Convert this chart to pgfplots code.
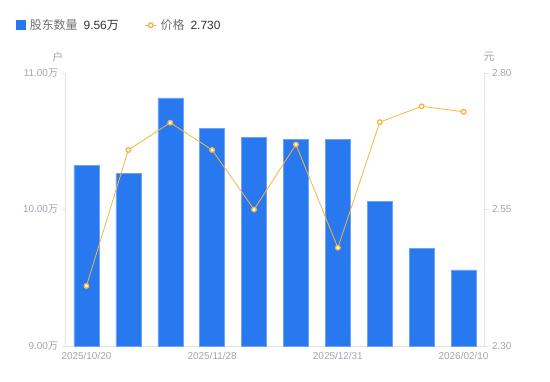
\documentclass[border=0pt]{standalone}
\usepackage{fontspec}
\setmainfont{Liberation Sans}
\newfontfamily\cjk{Noto Sans CJK SC}
\usepackage{pgfplots}
\pgfplotsset{compat=1.18}
\definecolor{barblue}{HTML}{2878F0}
\definecolor{baredge}{HTML}{6FA3F5}
\definecolor{lineorange}{HTML}{F7B43F}
\definecolor{tickgray}{HTML}{A3A3B0}
\definecolor{axisgray}{HTML}{E3E3E6}
\definecolor{leggray}{HTML}{707075}
\definecolor{legdark}{HTML}{333333}
\begin{document}
\begin{tikzpicture}[x=1bp,y=1bp]
\useasboundingbox (0,0) rectangle (550,381);
\begin{axis}[
  at={(65.5bp,35bp)}, anchor=south west,
  scale only axis, width=419bp, height=273bp,
  xmin=-0.5, xmax=9.5, ymin=9, ymax=11,
  axis x line*=bottom, axis y line*=left,
  axis line style={draw=axisgray, line width=0.8pt},
  xtick={0,3,6,9},
  xticklabels={2025/10/20,2025/11/28,2025/12/31,2026/02/10},
  x tick style={draw=none},
  ytick={9,10,11},
  yticklabels={9.00{\cjk 万},10.00{\cjk 万},11.00{\cjk 万}},
  y tick style={draw=axisgray, line width=0.8pt},
  major tick length=4bp, tick align=outside,
  /pgf/number format/assume math mode=true,
  ticklabel style={font=\fontsize{10}{12}\selectfont, text=tickgray},
  xticklabel style={yshift=1bp},
  legend style={at={(-0.125,1.175)}, anchor=west, draw=none, fill=none,
    font=\fontsize{12}{14}\selectfont, legend columns=2,
    /tikz/every even column/.append style={column sep=24bp}},
  legend cell align=left,
  clip mode=individual,
]
\addplot[ybar, bar width=25bp, fill=barblue, draw=baredge, line width=0.5pt,
  legend image code/.code={\fill[barblue] (0bp,-4.5bp) rectangle (9bp,4.5bp);}]
  coordinates {(0,10.326) (1,10.262) (2,10.817) (3,10.595) (4,10.531)
               (5,10.514) (6,10.516) (7,10.060) (8,9.713) (9,9.557)};
\addlegendentry{\hspace{2bp}{\cjk\color{leggray}股东数量}\hspace{6bp}{\color{legdark}9.56\cjk 万}}
\addlegendimage{legend image code/.code={
  \draw[lineorange, line width=0.8pt] (0bp,0bp) -- (11bp,0bp);
  \draw[lineorange, fill=white, line width=1.3pt] (5.5bp,0bp) circle (2.3bp);}}
\addlegendentry{\hspace{2bp}{\cjk\color{leggray}价格}\hspace{6bp}{\color{legdark}2.730}}
\node[font=\cjk\fontsize{11}{13}\selectfont, text=tickgray] at (axis description cs:-0.018,1.058) {户};
\end{axis}
\begin{axis}[
  at={(65.5bp,35bp)}, anchor=south west,
  scale only axis, width=419bp, height=273bp,
  xmin=-0.5, xmax=9.5, ymin=2.3, ymax=2.8,
  axis x line=none, axis y line*=right,
  axis line style={draw=axisgray, line width=0.8pt},
  ytick={2.3,2.55,2.8},
  yticklabels={2.30,2.55,2.80},
  y tick style={draw=axisgray, line width=0.8pt},
  major tick length=4bp, tick align=outside,
  /pgf/number format/assume math mode=true,
  ticklabel style={font=\fontsize{10}{12}\selectfont, text=tickgray},
  clip=false,
]
\addplot[lineorange, line width=0.8pt, mark=*,
  mark options={fill=white, draw=lineorange, line width=1.3pt}, mark size=2.3bp]
  coordinates {(0,2.410) (1,2.659) (2,2.709) (3,2.659) (4,2.550)
               (5,2.669) (6,2.480) (7,2.710) (8,2.739) (9,2.729)};
\node[font=\cjk\fontsize{11}{13}\selectfont, text=tickgray] at (axis description cs:1.0107,1.058) {元};
\end{axis}
\end{tikzpicture}
\end{document}
